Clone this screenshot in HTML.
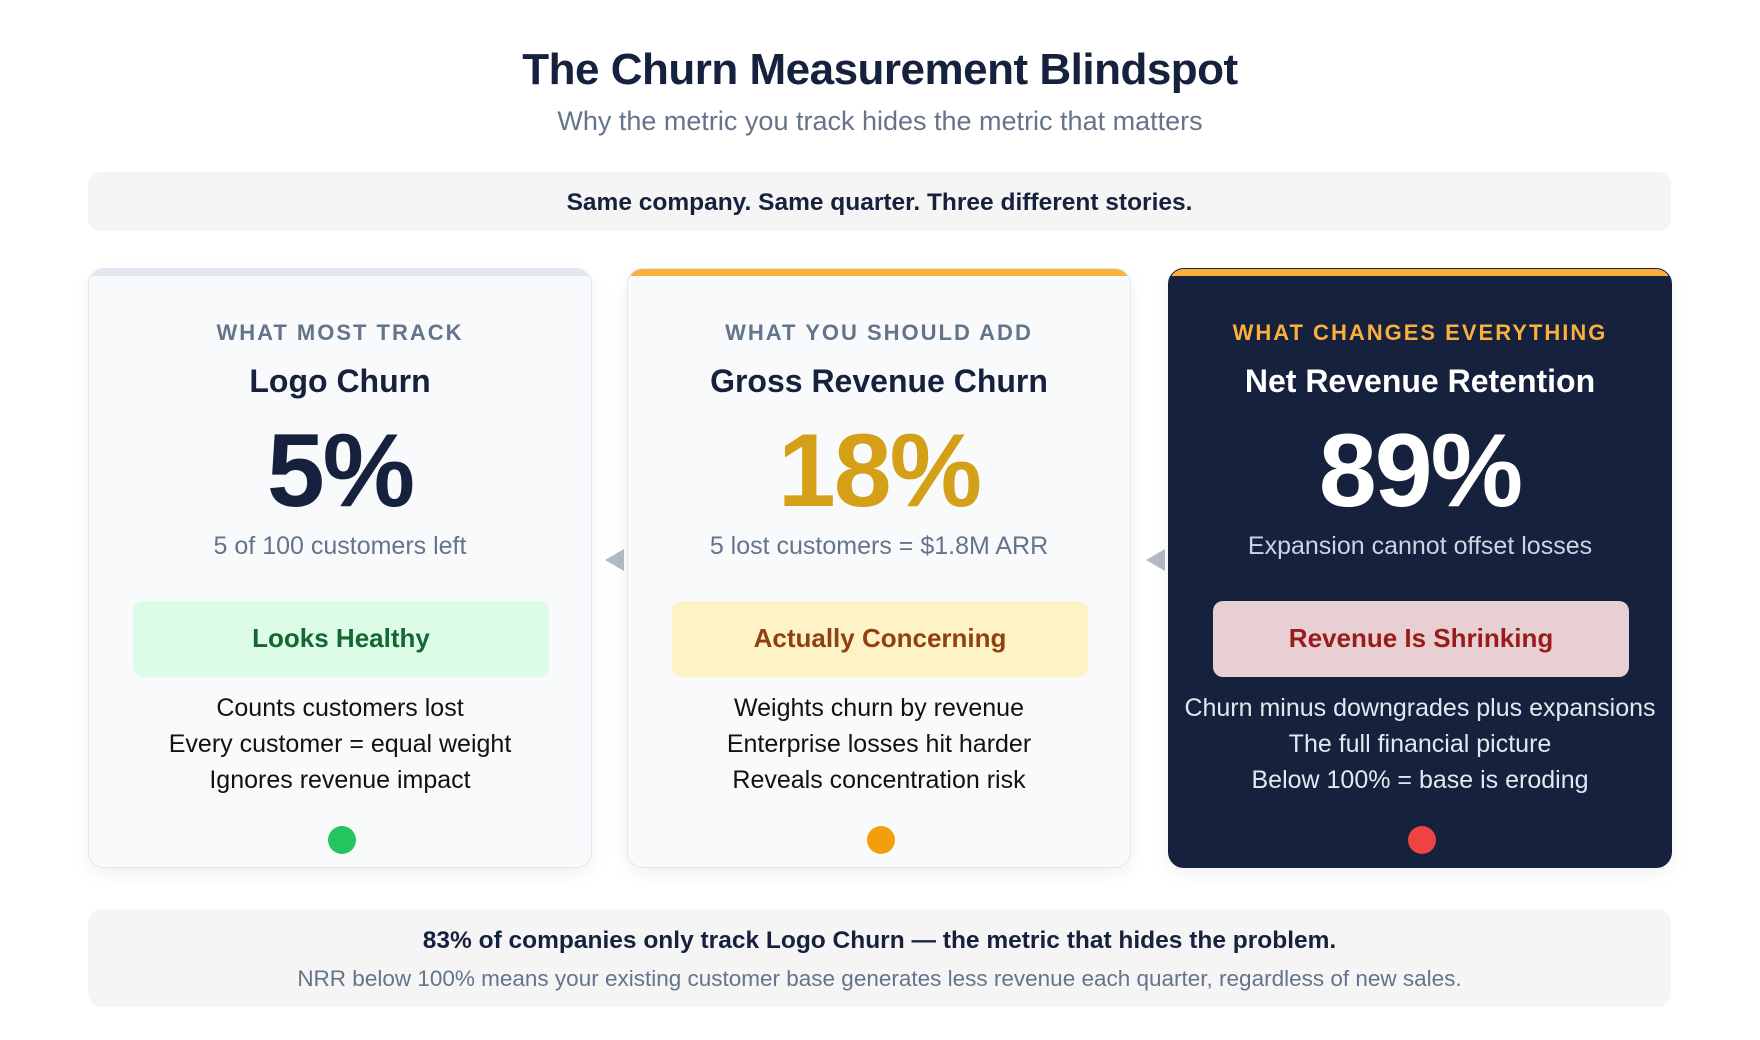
<!DOCTYPE html>
<html><head><meta charset="utf-8"><style>
*{box-sizing:border-box;margin:0;padding:0}
body{width:1760px;height:1040px;background:#fff;font-family:"Liberation Sans",sans-serif;position:relative;overflow:hidden}
.abs{position:absolute}
h1{position:absolute;left:0;width:1760px;top:45px;text-align:center;font-size:44px;font-weight:bold;color:#16213e;letter-spacing:-0.5px}
.sub{position:absolute;left:0;width:1760px;top:106px;text-align:center;font-size:27px;color:#64748b}
.banner{position:absolute;left:88px;top:172px;width:1583px;height:59px;background:#f5f5f5;border-radius:12px;text-align:center;line-height:61px;font-size:24.5px;font-weight:bold;color:#16213e}
.card{position:absolute;top:268px;width:504px;height:600px;background:#f8fafc;border:1.5px solid #e2e8f0;border-radius:16px;box-shadow:0 6px 18px rgba(0,0,0,0.06);overflow:hidden}
.card .bar{position:absolute;left:0;top:0;width:100%;height:7px}
.card div{position:absolute;left:0;width:100%;text-align:center}
.lab{top:51px;font-size:22px;font-weight:bold;letter-spacing:2px;color:#64748b}
.name{top:94px;font-size:32px;font-weight:bold;color:#16213e}
.big{top:143px;font-size:104px;font-weight:bold;color:#16213e;letter-spacing:-2px}
.desc1{top:263px;font-size:25px;color:#64748b}
.badge{left:44px!important;width:416px!important;top:332px;height:76px;border-radius:10px;line-height:74px;font-size:26px;font-weight:bold}
.lines{top:421px;font-size:25px;line-height:36px;color:#111}
.dot{left:239px!important;width:28px!important;height:28px;top:557px;border-radius:50%}
.arrow{position:absolute;width:0;height:0;border-top:11px solid transparent;border-bottom:11px solid transparent;border-right:19px solid #b4bac4}
.foot{position:absolute;left:88px;top:909px;width:1583px;height:98px;background:#f5f5f5;border-radius:14px;text-align:center}
</style></head><body>
<h1>The Churn Measurement Blindspot</h1>
<div class="sub">Why the metric you track hides the metric that matters</div>
<div class="banner">Same company. Same quarter. Three different stories.</div>

<div class="card" style="left:88px">
<div class="bar" style="background:#e2e8f0"></div>
<div class="lab">WHAT MOST TRACK</div>
<div class="name">Logo Churn</div>
<div class="big">5%</div>
<div class="desc1">5 of 100 customers left</div>
<div class="badge" style="background:#dcfce7;color:#166534">Looks Healthy</div>
<div class="lines">Counts customers lost<br>Every customer = equal weight<br>Ignores revenue impact</div>
<div class="dot" style="background:#22c55e"></div>
</div>

<div class="arrow" style="left:605px;top:549px"></div>

<div class="card" style="left:627px">
<div class="bar" style="background:#fbb03b"></div>
<div class="lab">WHAT YOU SHOULD ADD</div>
<div class="name">Gross Revenue Churn</div>
<div class="big" style="color:#d4a017">18%</div>
<div class="desc1">5 lost customers = $1.8M ARR</div>
<div class="badge" style="background:#fef3c7;color:#92400e">Actually Concerning</div>
<div class="lines">Weights churn by revenue<br>Enterprise losses hit harder<br>Reveals concentration risk</div>
<div class="dot" style="background:#f59e0b"></div>
</div>

<div class="arrow" style="left:1146px;top:549px"></div>

<div class="card" style="left:1168px;background:#16213e;border-color:#16213e">
<div class="bar" style="background:#fbb03b"></div>
<div class="lab" style="color:#fbb03b">WHAT CHANGES EVERYTHING</div>
<div class="name" style="color:#fff">Net Revenue Retention</div>
<div class="big" style="color:#fff">89%</div>
<div class="desc1" style="color:#cbd5e1">Expansion cannot offset losses</div>
<div class="badge" style="background:#e8cfd3;color:#991b1b">Revenue Is Shrinking</div>
<div class="lines" style="color:#e2e8f0">Churn minus downgrades plus expansions<br>The full financial picture<br>Below 100% = base is eroding</div>
<div class="dot" style="background:#ef4444"></div>
</div>

<div class="foot">
<div class="abs" style="left:0;width:100%;top:18px;font-size:24.5px;font-weight:bold;color:#16213e">83% of companies only track Logo Churn — the metric that hides the problem.</div>
<div class="abs" style="left:0;width:100%;top:57px;font-size:22.5px;color:#64748b">NRR below 100% means your existing customer base generates less revenue each quarter, regardless of new sales.</div>
</div>
</body></html>
